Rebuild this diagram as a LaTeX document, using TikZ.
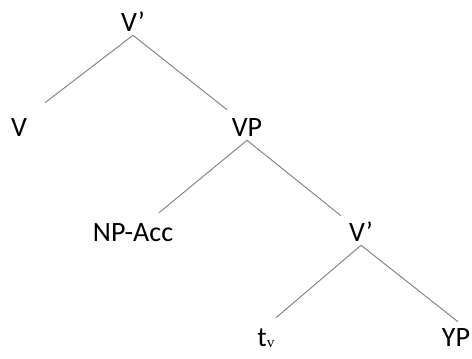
\documentclass[tikz,border=0pt]{standalone}
\usepackage{fontspec}
\setmainfont{Carlito}
\newfontfamily\subserif{Liberation Serif}
\usetikzlibrary{trees}

\begin{document}
\begin{tikzpicture}[
	level distance=78.75pt,
	level 1/.style={sibling distance=171pt},
	level 2/.style={sibling distance=171pt},
	level 3/.style={sibling distance=142.5pt},
	every node/.style={inner xsep=3pt,inner ysep=3pt,text height=13.5pt,text depth=0pt,
		font=\fontsize{21}{25}\selectfont},
	edge from parent/.style={draw,gray,line width=0.7pt},
	branch/.style={edge from parent path={(\tikzparentnode.south) -- ([shift={#1}]\tikzchildnode.north)}}]
	\useasboundingbox (-99.75pt,16.5pt) rectangle (254.25pt,-252pt);
	\node (vbar) {V’}
		child[branch={(19.5pt,8.25pt)}] {node (v) {V}}
		child[branch={(-15pt,3pt)}] {
		node (vp) {VP}
			child[branch={(19.5pt,4.5pt)}] {node (np) {NP-Acc}}
			child[branch={(-15pt,2.25pt)}] {
			node (vbar2) {V’}
				child[branch={(7.5pt,4.5pt)}] {node (trace) {t\raisebox{-1pt}{\fontsize{11.5}{12}\subserif v}}}
				child[branch={(1.5pt,1.5pt)}] {node (yp) {YP}}
			}
		}
	;
\end{tikzpicture}
\end{document}
